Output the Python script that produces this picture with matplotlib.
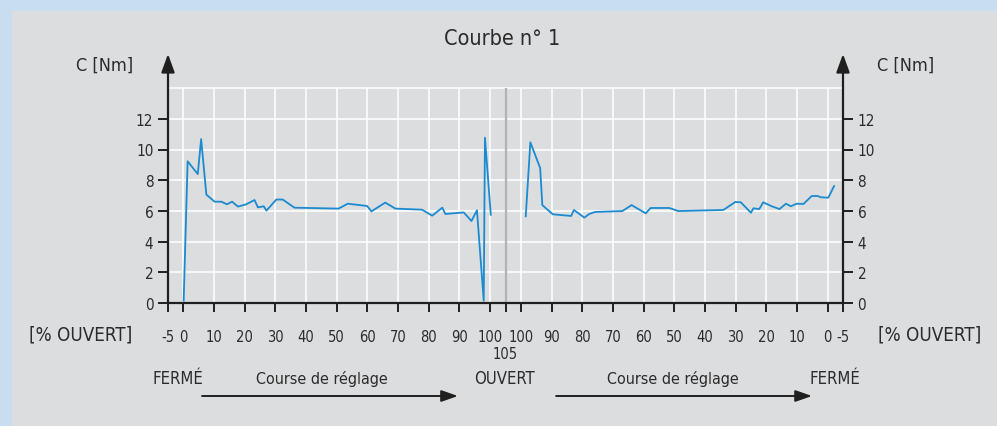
import matplotlib
matplotlib.use("Agg")
import matplotlib.pyplot as plt
from matplotlib.patches import Rectangle

plt.rcParams['font.family'] = ['Liberation Sans Narrow', 'DejaVu Sans']
plt.rcParams['font.stretch'] = 'condensed'

# opening side: % open -> torque [Nm]
open_pct = [0.1, 1.4, 4.7, 5.8, 7.5, 10.2, 12.4, 14.2, 15.9, 17.8, 20.5, 23.2, 24.3,
            26.2, 27.1, 30.3, 32.4, 36.2, 50.6, 53.6, 59.9, 61.3, 65.8, 69.1, 77.8,
            81.1, 84.4, 85.4, 91.4, 93.9, 95.7, 97.9, 98.3, 100.2]
open_torque = [0.15, 9.23, 8.4, 10.68, 7.06, 6.6, 6.6, 6.43, 6.6, 6.28, 6.43, 6.71, 6.23,
               6.3, 6.02, 6.74, 6.74, 6.21, 6.15, 6.47, 6.32, 5.97, 6.54, 6.15, 6.08,
               5.69, 6.21, 5.8, 5.9, 5.34, 6.04, 0.15, 10.77, 5.75]

# closing side: % open (going back down) -> torque [Nm]
close_pct = [98.4, 96.9, 93.7, 93.0, 89.6, 83.6, 82.7, 79.3, 77.7, 75.8, 66.9, 63.9,
             59.3, 57.7, 51.6, 48.7, 34.0, 30.1, 28.3, 25.0, 24.2, 22.3, 21.0, 18.2,
             15.7, 13.6, 12.0, 10.1, 7.9, 5.2, 3.2, 2.3, -0.2, -2.1]
close_torque = [5.65, 10.47, 8.79, 6.38, 5.78, 5.67, 6.06, 5.56, 5.8, 5.93, 5.99, 6.38,
                5.84, 6.19, 6.19, 5.99, 6.06, 6.58, 6.56, 5.88, 6.17, 6.12, 6.56, 6.3,
                6.12, 6.47, 6.3, 6.47, 6.45, 6.97, 6.97, 6.89, 6.86, 7.62]

left_ticks = [-5, 0, 10, 20, 30, 40, 50, 60, 70, 80, 90, 100]
right_ticks = [100, 90, 80, 70, 60, 50, 40, 30, 20, 10, 0, -5]
y_ticks = [0, 2, 4, 6, 8, 10, 12]
turn_pct = 105

txt = '#2b2b2b'
line_col = '#1a8bd0'

# the closing stroke is drawn mirrored about the 105 % turning point
def mirror(p):
    return 2 * turn_pct - p

fig = plt.figure(figsize=(9.97, 4.27), dpi=100)
fig.patch.set_facecolor('#c9ddf1')
fig.patches.append(Rectangle((12 / 997, 0), 1, 1 - 12 / 427, transform=fig.transFigure,
                             facecolor='#dcdddf', edgecolor='none', zorder=-5))

ax = fig.add_axes([168 / 997, 123 / 427, 675 / 997, 249 / 427])
ax.set_facecolor('none')
ax.set_xlim(-5, mirror(-5))
ax.set_ylim(0, 249 / 15.35)

# grid
xg = [t for t in left_ticks if t >= 0] + [mirror(t) for t in right_ticks if t >= 0]
ax.vlines(xg, 0, 14, color='white', lw=1.1, zorder=1)
ax.hlines([2, 4, 6, 8, 10, 12, 14], -5, mirror(-5), color='white', lw=1.1, zorder=1)
ax.vlines([turn_pct], 0, 14, color='#b3b3b5', lw=1.6, zorder=1)

ax.plot(open_pct, open_torque, color=line_col, lw=1.3, zorder=3)
ax.plot([mirror(p) for p in close_pct], close_torque, color=line_col, lw=1.3, zorder=3)

# axes
for s in ['top', 'left', 'right']:
    ax.spines[s].set_visible(False)
ax.spines['bottom'].set_linewidth(1.6)
ax.spines['bottom'].set_color('#1f1f1f')
for xa in [-5, mirror(-5)]:
    ax.annotate('', xy=(xa, 249 / 15.35), xytext=(xa, 0), annotation_clip=False,
                arrowprops=dict(arrowstyle='-|>,head_length=1.1,head_width=0.4',
                                color='#1f1f1f', lw=1.6, mutation_scale=10,
                                shrinkA=0, shrinkB=0))

xt = left_ticks + [turn_pct] + [mirror(t) for t in right_ticks]
xl = [str(t) for t in left_ticks] + [''] + [str(t) for t in right_ticks]
ax.set_xticks(xt)
ax.set_xticklabels(xl, fontsize=10.5, color=txt)
ax.set_yticks(y_ticks)
ax.set_yticklabels([str(t) for t in y_ticks], fontsize=11, color=txt)
ax.tick_params(axis='x', direction='out', length=6.5, width=1.4, color='#1f1f1f', pad=12)
ax.tick_params(axis='y', direction='out', length=7.5, width=1.4, color='#1f1f1f', pad=3,
               left=True, right=True, labelleft=True, labelright=True)
# the turning-point label sits one line lower
ax.text(turn_pct, -51 / 15.35, str(turn_pct), fontsize=10.5, color=txt,
        ha='center', va='center', clip_on=False)

# labels
fig.text(502 / 997, 1 - 39 / 427, 'Courbe n° 1', fontsize=15.5, color=txt,
         ha='center', va='center')
fig.text(105 / 997, 1 - 66 / 427, 'C [Nm]', fontsize=13, color=txt, ha='center', va='center')
fig.text(906 / 997, 1 - 66 / 427, 'C [Nm]', fontsize=13, color=txt, ha='center', va='center')
fig.text(81 / 997, 1 - 335 / 427, '[% OUVERT]', fontsize=13.5, color=txt, ha='center', va='center')
fig.text(930 / 997, 1 - 335 / 427, '[% OUVERT]', fontsize=13.5, color=txt, ha='center', va='center')

ylab = -75 / 15.35
yarr = -93 / 15.35
for xp, s in [(-1.7, 'FERMÉ'), (104.8, 'OUVERT'), (212.4, 'FERMÉ')]:
    ax.text(xp, ylab, s, fontsize=12, color=txt, ha='center', va='center', clip_on=False)
for xp in [45.2, 159.6]:
    ax.text(xp, ylab, 'Course de réglage', fontsize=11.5, color=txt, ha='center',
            va='center', clip_on=False)
for x0, x1 in [(6.1, 89.5), (121.5, 204.9)]:
    ax.annotate('', xy=(x1, yarr), xytext=(x0, yarr), annotation_clip=False,
                arrowprops=dict(arrowstyle='-|>,head_length=1.0,head_width=0.35',
                                color='#1f1f1f', lw=1.4, mutation_scale=10,
                                shrinkA=0, shrinkB=0))

fig.savefig('out.png', dpi=100, facecolor=fig.get_facecolor())
